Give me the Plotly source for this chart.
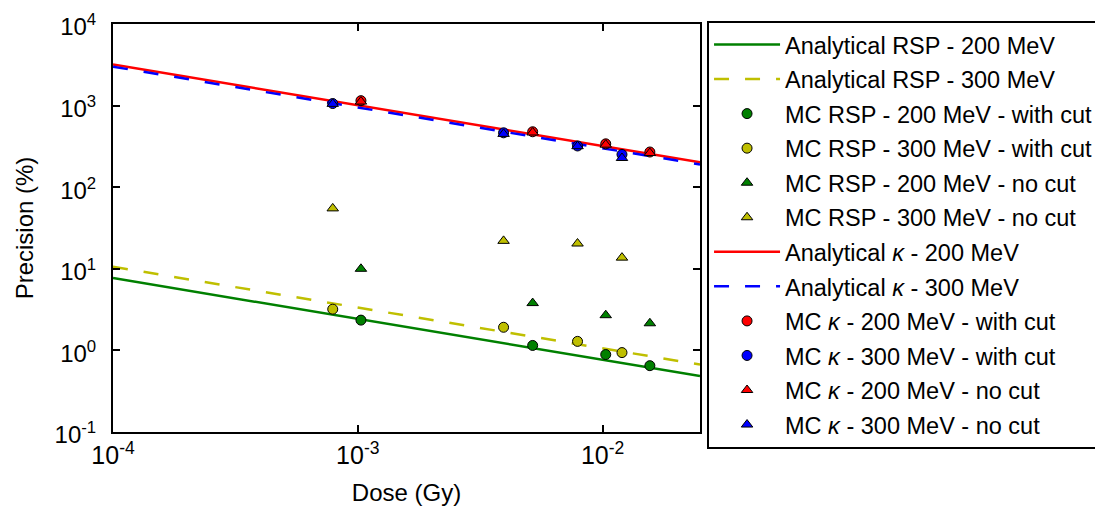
import plotly.graph_objects as go

# ---- data ----
dose_a = [7.9e-4, 3.94e-3, 7.9e-3, 1.2e-2]     # 300 MeV dose points
dose_b = [1.03e-3, 5.18e-3, 1.03e-2, 1.56e-2]  # 200 MeV dose points

rsp200_cut = [2.35, 1.15, 0.89, 0.65]
rsp300_cut = [3.2, 1.92, 1.29, 0.94]
rsp200_nocut = [10.0, 3.8, 2.7, 2.15]
rsp300_nocut = [55.0, 22.0, 20.4, 13.7]
k200_cut = [1150, 478, 340, 270]
k300_cut = [1060, 464, 320, 252]
k200_nocut = [1120, 468, 332, 262]
k300_nocut = [1050, 450, 318, 228]

line_x = [1e-4, 2.5e-2]
an_rsp200 = [7.7, 0.487]
an_rsp300 = [10.6, 0.67]
an_k200 = [3200, 202]
an_k300 = [3000, 190]

x_ticks = [1e-4, 1e-3, 1e-2]
x_ticktext = ["10<sup>-4</sup>", "10<sup>-3</sup>", "10<sup>-2</sup>"]
y_ticks = [1e-1, 1e0, 1e1, 1e2, 1e3, 1e4]
y_ticktext = ["10<sup>-1</sup>", "10<sup>0</sup>", "10<sup>1</sup>",
              "10<sup>2</sup>", "10<sup>3</sup>", "10<sup>4</sup>"]

GREEN = "#008000"
YELLOW = "#BFBF00"
RED = "#FF0000"
BLUE = "#0000FF"
DASH = "15px,16px"

fig = go.Figure()

def line(y, name, color, dash):
    fig.add_trace(go.Scatter(x=line_x, y=y, mode="lines", name=name,
                             legendgroup=name,
                             line=dict(color=color, width=2.5, dash=dash)))

def pts(x, y, name, color, symbol):
    fig.add_trace(go.Scatter(x=x, y=y, mode="markers", name=name,
                             legendgroup=name,
                             marker=dict(color=color, symbol=symbol, size=10,
                                         line=dict(color="black", width=1))))

line(an_rsp200, "Analytical RSP - 200 MeV", GREEN, "solid")
line(an_rsp300, "Analytical RSP - 300 MeV", YELLOW, DASH)
pts(dose_b, rsp200_cut, "MC RSP - 200 MeV - with cut", GREEN, "circle")
pts(dose_a, rsp300_cut, "MC RSP - 300 MeV - with cut", YELLOW, "circle")
pts(dose_b, rsp200_nocut, "MC RSP - 200 MeV - no cut", GREEN, "triangle-up")
pts(dose_a, rsp300_nocut, "MC RSP - 300 MeV - no cut", YELLOW, "triangle-up")
line(an_k200, "Analytical <i>κ</i> - 200 MeV", RED, "solid")
line(an_k300, "Analytical <i>κ</i> - 300 MeV", BLUE, DASH)
pts(dose_b, k200_cut, "MC <i>κ</i> - 200 MeV - with cut", RED, "circle")
pts(dose_a, k300_cut, "MC <i>κ</i> - 300 MeV - with cut", BLUE, "circle")
pts(dose_b, k200_nocut, "MC <i>κ</i> - 200 MeV - no cut", RED, "triangle-up")
pts(dose_a, k300_nocut, "MC <i>κ</i> - 300 MeV - no cut", BLUE, "triangle-up")

FONT = "Liberation Sans, Arial, sans-serif"

# the page body has an 8px margin, so the figure is sized/offset to fit
fig.update_layout(
    width=1087, height=498,
    margin=dict(l=105, r=395, t=16, b=74, autoexpand=False),
    paper_bgcolor="white", plot_bgcolor="white",
    font=dict(family=FONT, color="black", size=24),
    showlegend=True,
    legend=dict(x=1.012, y=1.008, xanchor="left", yanchor="top",
                bordercolor="black", borderwidth=2, bgcolor="white",
                font=dict(size=23.5, family=FONT), itemwidth=66,
                tracegroupgap=1, maxheight=500),
)
fig.update_xaxes(type="log", range=[-4, 1.3979 - 3], tickvals=x_ticks,
                 ticktext=x_ticktext, ticks="inside", ticklen=7,
                 tickwidth=2, tickcolor="black", showline=True, linewidth=2,
                 linecolor="black", mirror="ticks", showgrid=False,
                 zeroline=False, tickfont=dict(size=25), automargin=False,
                 ticklabelstandoff=0, ticklabeloverflow="allow",
                 title=dict(text="Dose (Gy)", font=dict(size=24), standoff=18))
fig.update_yaxes(type="log", range=[-1, 4], tickvals=y_ticks,
                 ticktext=y_ticktext, ticks="inside", ticklen=7,
                 tickwidth=2, tickcolor="black", showline=True, linewidth=2,
                 linecolor="black", mirror="ticks", showgrid=False,
                 zeroline=False, tickfont=dict(size=24), automargin=False,
                 ticklabelstandoff=10, ticklabeloverflow="allow",
                 ticklabelshift=3,
                 title=dict(text="Precision (%)", font=dict(size=24), standoff=14))

fig.write_html("out.html")
